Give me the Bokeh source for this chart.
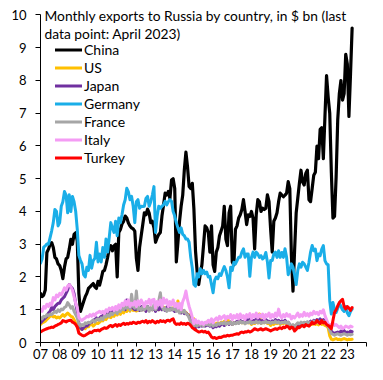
import numpy as np
from bokeh.plotting import figure
from bokeh.models import FixedTicker, Legend, LegendItem, Label
from bokeh.embed import file_html
from bokeh.resources import INLINE

start_year = 2007
year_ticks = list(range(2007, 2025))
tick_labels = {y: ("%02d" % (y - 2000) if y < 2024 else "") for y in year_ticks}
y_ticks = list(range(0, 11))
y_max = 10

series_names = ["China", "US", "Japan", "Germany", "France", "Italy", "Turkey"]
series_colors = ["#000000", "#FFC000", "#7030A0", "#1AAEE8", "#A6A6A6", "#F49CF4", "#FF0000"]

china = [
    1.5, 1.4, 1.45, 1.6, 2.75, 2.85, 3.0, 3.05, 2.9, 2.6, 2.55, 2.4,
    2.35, 2.2, 1.95, 2.3, 2.55, 2.6, 2.85, 3.15, 3.0, 3.3, 3.35, 3.1,
    1.5, 0.95, 1.1, 1.25, 1.4, 1.5, 1.65, 1.7, 1.75, 1.8, 1.7, 1.65,
    1.87, 1.75, 1.95, 2.17, 2.2, 2.37, 2.6, 2.87, 2.96, 2.8, 2.95, 3.0,
    2.0, 3.36, 3.45, 3.62, 3.7, 3.86, 3.8, 3.65, 3.56, 3.5, 3.47, 3.4,
    2.57, 2.2, 2.9, 3.26, 3.6, 3.96, 3.9, 4.07, 3.95, 3.66, 3.7, 3.5,
    3.06, 3.2, 3.3, 3.36, 3.86, 4.2, 4.56, 4.5, 4.61, 4.4, 4.96, 5.0,
    4.7, 2.46, 3.06, 3.7, 4.16, 4.5, 5.26, 5.81, 5.36, 4.76, 4.7, 4.86,
    4.07, 2.8, 2.17, 1.77, 2.1, 2.37, 2.96, 3.56, 3.5, 3.36, 2.76, 3.56,
    2.37, 2.17, 2.76, 2.9, 3.26, 3.4, 3.56, 4.16, 3.16, 2.96, 3.96, 4.16,
    2.46, 2.37, 3.46, 3.56, 3.8, 3.9, 4.06, 4.36, 4.0, 3.6, 3.9, 3.85,
    4.0, 3.8, 2.86, 3.9, 4.36, 4.3, 4.0, 4.1, 4.06, 4.1, 4.51, 4.3,
    3.46, 2.76, 3.7, 3.8, 3.96, 4.3, 4.56, 4.5, 4.45, 4.5, 4.56, 4.91,
    4.7, 2.66, 1.57, 2.8, 3.96, 4.41, 4.86, 5.26, 4.9, 4.81, 5.16, 5.26,
    4.36, 4.3, 4.7, 5.11, 5.2, 6.0, 5.61, 6.51, 6.56, 5.61, 6.9, 8.15,
    7.5, 7.0, 5.2, 3.8, 3.85, 5.06, 6.8, 7.6, 8.0, 7.4, 7.6, 8.8,
    8.5, 6.9, 8.2, 9.6,
]

us = [
    0.55, 0.6, 0.62, 0.65, 0.7, 0.75, 0.8, 0.82, 0.78, 0.8, 0.75, 0.78,
    0.75, 0.8, 0.85, 0.8, 0.85, 0.9, 0.85, 0.8, 0.78, 0.7, 0.6, 0.55,
    0.45, 0.42, 0.4, 0.45, 0.42, 0.5, 0.48, 0.55, 0.57, 0.5, 0.55, 0.6,
    0.58, 0.62, 0.68, 0.66, 0.74, 0.7, 0.78, 0.78, 0.76, 0.84, 0.8, 0.88,
    0.84, 0.92, 0.86, 0.98, 0.9, 1.0, 0.95, 1.05, 0.96, 1.08, 0.98, 1.0,
    0.96, 1.0, 0.98, 1.04, 1.0, 1.02, 0.98, 1.08, 1.0, 1.05, 1.0, 1.06,
    0.98, 1.05, 1.0, 1.06, 1.02, 1.08, 1.0, 1.04, 1.1, 1.0, 1.04, 1.06,
    1.0, 1.04, 1.27, 0.98, 0.95, 0.98, 0.9, 0.92, 0.85, 0.85, 0.75, 0.7,
    0.72, 0.6, 0.55, 0.6, 0.52, 0.58, 0.55, 0.6, 0.62, 0.58, 0.55, 0.6,
    0.5, 0.55, 0.58, 0.6, 0.55, 0.62, 0.6, 0.65, 0.6, 0.77, 0.58, 0.62,
    0.55, 0.6, 0.58, 0.62, 0.6, 0.65, 0.6, 0.62, 0.58, 0.65, 0.6, 0.62,
    0.55, 0.6, 0.58, 0.62, 0.6, 0.87, 0.58, 0.62, 0.6, 0.65, 0.58, 0.6,
    0.52, 0.58, 0.55, 0.6, 0.58, 0.62, 0.55, 0.6, 0.58, 0.62, 0.55, 0.58,
    0.5, 0.45, 0.5, 0.42, 0.48, 0.52, 0.5, 0.55, 0.52, 0.56, 0.54, 0.58,
    0.52, 0.56, 0.55, 0.6, 0.55, 0.58, 0.54, 0.6, 0.55, 0.58, 0.52, 0.5,
    0.45, 0.2, 0.1, 0.08, 0.1, 0.12, 0.09, 0.1, 0.08, 0.1, 0.12, 0.1,
    0.08, 0.1, 0.09, 0.1,
]

japan = [
    0.6, 0.65, 0.7, 0.75, 0.8, 0.9, 0.95, 1.07, 1.0, 1.1, 1.15, 1.2,
    1.2, 1.3, 1.35, 1.4, 1.5, 1.6, 1.77, 1.7, 1.65, 1.5, 1.2, 0.95,
    0.6, 0.45, 0.4, 0.45, 0.5, 0.5, 0.55, 0.6, 0.62, 0.68, 0.7, 0.75,
    0.7, 0.75, 0.8, 0.82, 0.85, 0.8, 0.9, 0.88, 0.95, 0.92, 1.0, 0.98,
    0.95, 1.0, 0.98, 1.05, 1.1, 1.0, 1.3, 1.2, 1.05, 1.1, 1.05, 1.0,
    1.0, 1.05, 0.98, 1.1, 1.0, 1.05, 0.95, 1.1, 1.0, 1.05, 1.0, 1.08,
    0.95, 1.05, 1.0, 1.1, 1.0, 1.05, 0.98, 1.08, 1.0, 1.05, 1.0, 1.0,
    0.95, 1.0, 1.12, 0.95, 0.9, 0.95, 0.88, 0.9, 0.85, 0.8, 0.7, 0.6,
    0.5, 0.45, 0.5, 0.48, 0.52, 0.5, 0.55, 0.5, 0.52, 0.55, 0.5, 0.55,
    0.45, 0.5, 0.48, 0.55, 0.5, 0.55, 0.58, 0.52, 0.56, 0.6, 0.55, 0.62,
    0.55, 0.6, 0.58, 0.65, 0.6, 0.68, 0.62, 0.65, 0.6, 0.7, 0.65, 0.72,
    0.6, 0.68, 0.65, 0.72, 0.66, 0.7, 0.62, 0.68, 0.64, 0.7, 0.66, 0.65,
    0.6, 0.66, 0.62, 0.7, 0.64, 0.68, 0.6, 0.66, 0.62, 0.68, 0.6, 0.62,
    0.55, 0.5, 0.52, 0.45, 0.5, 0.55, 0.52, 0.58, 0.55, 0.6, 0.58, 0.62,
    0.6, 0.65, 0.6, 0.68, 0.62, 0.7, 0.65, 0.72, 0.66, 0.7, 0.65, 0.6,
    0.55, 0.45, 0.35, 0.3, 0.28, 0.3, 0.32, 0.3, 0.35, 0.32, 0.36, 0.3,
    0.32, 0.3, 0.35, 0.33,
]

germany = [
    2.42, 2.55, 2.91, 2.95, 3.01, 3.0, 3.2, 3.41, 3.66, 4.06, 4.0, 3.56,
    3.66, 4.16, 4.3, 4.61, 4.5, 3.96, 4.51, 4.0, 4.46, 4.3, 4.01, 3.46,
    2.66, 2.51, 2.4, 2.07, 2.0, 2.3, 2.2, 2.66, 2.27, 2.5, 2.57, 3.06,
    2.46, 2.7, 2.46, 2.9, 2.6, 3.16, 2.76, 3.2, 3.66, 3.5, 3.36, 3.7,
    3.26, 3.8, 3.66, 3.9, 4.2, 4.36, 4.71, 4.6, 4.36, 4.46, 4.16, 3.66,
    4.3, 4.36, 4.1, 4.16, 4.15, 4.16, 4.4, 4.46, 4.16, 4.3, 4.5, 4.76,
    3.36, 3.86, 4.16, 4.1, 4.16, 4.2, 4.31, 4.2, 4.3, 4.36, 4.31, 4.0,
    3.86, 3.66, 3.5, 3.36, 3.5, 3.3, 3.26, 3.16, 3.16, 3.06, 2.6, 2.27,
    1.77, 1.72, 2.1, 2.0, 2.25, 2.1, 2.2, 2.1, 2.15, 2.0, 2.02, 1.77,
    1.52, 1.9, 2.0, 1.95, 2.1, 2.05, 2.2, 2.32, 2.2, 2.0, 1.67, 2.3,
    2.2, 2.45, 2.4, 2.5, 2.6, 2.6, 2.76, 2.86, 2.6, 2.7, 2.7, 2.02,
    2.6, 2.76, 2.6, 2.76, 2.7, 2.6, 2.65, 2.55, 2.6, 2.75, 2.46, 1.97,
    2.5, 2.5, 2.7, 2.76, 2.6, 2.8, 2.6, 2.75, 2.6, 2.86, 2.6, 2.07,
    2.2, 2.4, 2.3, 2.07, 1.77, 2.2, 2.4, 2.3, 2.45, 2.4, 2.3, 2.2,
    2.45, 2.76, 2.96, 2.8, 2.85, 2.5, 2.7, 2.65, 2.85, 2.96, 2.5, 2.4,
    2.37, 1.27, 0.87, 1.22, 1.0, 0.92, 1.05, 1.2, 1.1, 1.0, 0.95, 1.1,
    0.9, 0.82, 0.95, 1.02,
]

france = [
    0.77, 0.72, 0.8, 0.78, 0.85, 0.82, 0.87, 0.85, 0.9, 0.95, 0.92, 1.0,
    0.95, 1.02, 1.0, 1.07, 1.1, 1.22, 1.15, 1.05, 1.1, 0.95, 0.85, 0.75,
    0.57, 0.5, 0.55, 0.52, 0.6, 0.58, 0.62, 0.6, 0.65, 0.68, 0.63, 0.7,
    0.72, 0.68, 0.75, 0.7, 0.82, 0.78, 0.85, 0.8, 0.9, 0.85, 0.92, 0.95,
    0.88, 1.0, 0.95, 1.07, 1.0, 1.1, 1.05, 1.27, 1.0, 1.47, 1.1, 1.05,
    1.57, 1.0, 1.05, 0.98, 1.1, 1.0, 1.05, 1.1, 0.95, 1.05, 1.0, 1.15,
    1.0, 1.1, 1.27, 1.52, 1.1, 1.0, 1.05, 0.95, 1.02, 0.98, 1.05, 1.0,
    1.07, 0.95, 1.0, 0.9, 1.05, 0.92, 0.98, 0.88, 0.85, 0.75, 0.62, 0.55,
    0.5, 0.55, 0.5, 0.57, 0.52, 0.55, 0.5, 0.58, 0.54, 0.57, 0.52, 0.6,
    0.5, 0.55, 0.52, 0.58, 0.55, 0.6, 0.57, 0.62, 0.55, 0.6, 0.57, 0.62,
    0.55, 0.6, 0.57, 0.62, 0.58, 0.65, 0.6, 0.63, 0.57, 0.62, 0.6, 0.65,
    0.58, 0.62, 0.6, 0.65, 0.6, 0.63, 0.58, 0.62, 0.6, 0.65, 0.6, 0.62,
    0.58, 0.62, 0.6, 0.65, 0.6, 0.63, 0.58, 0.62, 0.6, 0.64, 0.58, 0.62,
    0.55, 0.5, 0.55, 0.48, 0.55, 0.6, 0.57, 0.62, 0.58, 0.62, 0.6, 0.63,
    0.58, 0.62, 0.6, 0.65, 0.6, 0.64, 0.6, 0.63, 0.62, 0.65, 0.6, 0.55,
    0.5, 0.37, 0.27, 0.25, 0.22, 0.25, 0.27, 0.24, 0.22, 0.25, 0.27, 0.25,
    0.22, 0.25, 0.23, 0.25,
]

italy = [
    1.02, 0.95, 1.1, 1.05, 1.17, 1.1, 1.2, 1.15, 1.37, 1.3, 1.45, 1.4,
    1.5, 1.45, 1.55, 1.67, 1.6, 1.72, 1.77, 1.7, 1.6, 1.4, 1.2, 1.07,
    0.77, 0.7, 0.67, 0.72, 0.75, 0.8, 0.78, 0.85, 0.8, 0.87, 0.82, 0.9,
    0.92, 0.95, 0.9, 0.95, 0.88, 1.0, 0.95, 1.05, 1.0, 1.07, 0.98, 1.1,
    1.0, 1.15, 1.05, 1.2, 1.12, 1.27, 1.15, 1.3, 1.1, 1.2, 1.15, 1.25,
    1.1, 1.27, 1.15, 1.3, 1.2, 1.1, 1.25, 1.2, 1.32, 1.15, 1.3, 1.32,
    1.05, 1.25, 1.15, 1.3, 1.1, 1.35, 1.2, 1.3, 1.1, 1.25, 1.15, 1.3,
    1.1, 1.2, 1.05, 1.2, 1.0, 1.25, 1.37, 1.57, 1.3, 1.1, 0.95, 0.77,
    0.57, 0.7, 0.6, 0.65, 0.57, 0.62, 0.55, 0.62, 0.6, 0.68, 0.62, 0.72,
    0.6, 0.7, 0.75, 0.68, 0.8, 0.72, 0.78, 0.82, 0.7, 0.8, 0.75, 0.85,
    0.7, 0.82, 0.75, 0.85, 0.72, 0.87, 0.75, 0.82, 0.7, 0.85, 0.78, 0.88,
    0.72, 0.85, 0.78, 0.9, 0.75, 0.85, 0.78, 0.87, 0.72, 0.85, 0.8, 0.9,
    0.75, 0.85, 0.78, 0.9, 0.8, 1.02, 0.82, 0.75, 0.85, 0.78, 0.88, 0.8,
    0.85, 0.72, 0.8, 0.75, 0.82, 0.9, 0.78, 0.85, 0.8, 0.92, 0.82, 0.88,
    0.8, 0.9, 0.85, 0.95, 0.88, 0.92, 0.85, 0.95, 0.9, 1.0, 0.82, 0.7,
    0.57, 0.52, 0.55, 0.6, 0.52, 0.55, 0.5, 0.45, 0.5, 0.42, 0.45, 0.5,
    0.48, 0.45, 0.5, 0.48,
]

turkey = [
    0.32, 0.35, 0.38, 0.4, 0.42, 0.44, 0.45, 0.47, 0.46, 0.5, 0.52, 0.55,
    0.57, 0.6, 0.67, 0.65, 0.63, 0.66, 0.67, 0.68, 0.62, 0.6, 0.55, 0.47,
    0.29, 0.25, 0.22, 0.2, 0.22, 0.25, 0.28, 0.32, 0.3, 0.35, 0.37, 0.36,
    0.38, 0.35, 0.4, 0.42, 0.45, 0.43, 0.45, 0.5, 0.52, 0.48, 0.52, 0.55,
    0.5, 0.55, 0.52, 0.56, 0.59, 0.55, 0.58, 0.56, 0.6, 0.58, 0.62, 0.6,
    0.58, 0.62, 0.6, 0.63, 0.65, 0.62, 0.67, 0.6, 0.65, 0.62, 0.67, 0.63,
    0.6, 0.65, 0.62, 0.67, 0.64, 0.66, 0.62, 0.67, 0.68, 0.65, 0.7, 0.72,
    0.6, 0.55, 0.57, 0.55, 0.6, 0.56, 0.58, 0.55, 0.59, 0.57, 0.52, 0.45,
    0.42, 0.38, 0.35, 0.32, 0.33, 0.35, 0.32, 0.34, 0.3, 0.32, 0.25, 0.17,
    0.14, 0.15, 0.12, 0.14, 0.16, 0.15, 0.18, 0.2, 0.19, 0.22, 0.2, 0.22,
    0.22, 0.24, 0.25, 0.27, 0.25, 0.3, 0.32, 0.3, 0.33, 0.32, 0.35, 0.32,
    0.34, 0.38, 0.42, 0.4, 0.38, 0.4, 0.42, 0.38, 0.4, 0.42, 0.4, 0.38,
    0.35, 0.38, 0.4, 0.42, 0.4, 0.43, 0.45, 0.42, 0.47, 0.45, 0.5, 0.48,
    0.42, 0.47, 0.45, 0.35, 0.4, 0.47, 0.45, 0.5, 0.52, 0.48, 0.55, 0.52,
    0.5, 0.55, 0.62, 0.57, 0.6, 0.67, 0.62, 0.58, 0.67, 0.6, 0.62, 0.55,
    0.52, 0.48, 0.42, 0.67, 0.92, 1.0, 1.12, 1.22, 1.27, 1.32, 1.1, 1.02,
    1.1, 1.05, 0.98, 1.07,
]

series_values = [china, us, japan, germany, france, italy, turkey]

FONT = "Lato"

# a little headroom above 10 so the title (drawn at the 10 level) is not clipped
p = figure(width=367, height=364, x_range=(2007, 2024), y_range=(0, 10.32),
           output_backend="svg", toolbar_location=None,
           min_border_left=40, min_border_right=1, min_border_top=4,
           min_border_bottom=22, background_fill_color="white",
           border_fill_color="white")
p.outline_line_color = None
p.grid.visible = False

renderers = []
for name, color, vals in zip(series_names, series_colors, series_values):
    xs = start_year + np.arange(len(vals)) / 12.0
    r = p.line(xs, vals, line_color=color, line_width=3.2 if name == "China" else 3,
               line_join="round", line_cap="round")
    renderers.append(r)

xa = p.xaxis[0]
xa.ticker = FixedTicker(ticks=year_ticks)
xa.major_label_overrides = tick_labels
xa.minor_tick_line_color = None
xa.major_tick_in = 0
xa.major_tick_out = 4
xa.major_label_standoff = 2
ya = p.yaxis[0]
ya.ticker = FixedTicker(ticks=y_ticks)
ya.bounds = (0, y_max)
ya.minor_tick_line_color = None
ya.major_tick_in = 0
ya.major_tick_out = 5
ya.major_label_standoff = 9
for ax in (xa, ya):
    ax.axis_line_color = "#000000"
    ax.major_tick_line_color = "#000000"
    ax.major_label_text_font = FONT
    ax.major_label_text_font_size = "13px"
    ax.major_label_text_color = "#000000"

legend = Legend(items=[LegendItem(label=n, renderers=[r]) for n, r in zip(series_names, renderers)],
                location=(15, 176), orientation="vertical",
                glyph_width=27, glyph_height=17, label_height=17, spacing=1,
                padding=0, margin=0, label_standoff=2,
                border_line_color=None, background_fill_alpha=0,
                label_text_font=FONT, label_text_font_size="14px",
                label_text_color="#000000")
p.add_layout(legend)

title1 = Label(x=2007, y=y_max, x_offset=4, y_offset=-1,
               text="Monthly exports to Russia by country, in $ bn (last",
               text_baseline="middle", text_font=FONT, text_font_size="13.8px",
               text_color="#000000")
title2 = Label(x=2007, y=y_max, x_offset=4, y_offset=-18.5,
               text="data point: April 2023)",
               text_baseline="middle", text_font=FONT, text_font_size="13.8px",
               text_color="#000000")
p.add_layout(title1)
p.add_layout(title2)

open("out.html", "w").write(file_html(p, INLINE))
